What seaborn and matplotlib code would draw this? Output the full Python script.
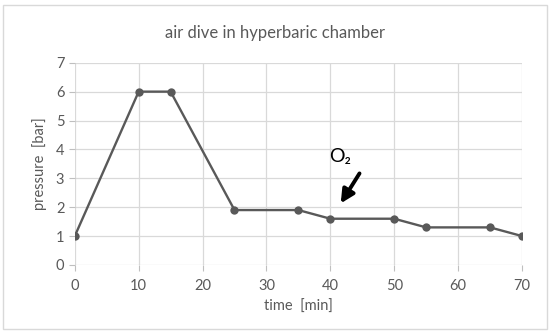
import matplotlib
matplotlib.use("Agg")
import matplotlib.pyplot as plt
import seaborn as sns
import pandas as pd

# dive profile
time_min = [0, 10, 15, 25, 35, 40, 50, 55, 65, 70]
pressure_bar = [1, 6, 6, 1.9, 1.9, 1.6, 1.6, 1.3, 1.3, 1]
x_ticks = [0, 10, 20, 30, 40, 50, 60, 70]
y_ticks = [0, 1, 2, 3, 4, 5, 6, 7]

df = pd.DataFrame({"time": time_min, "pressure": pressure_bar})

sns.set_style("white")
plt.rcParams["font.family"] = ["Lato", "DejaVu Sans"]

gray = "#595959"
fig = plt.figure(figsize=(5.5, 3.32), dpi=100)
ax = fig.add_axes([0.136, 0.202, 0.813, 0.609])

sns.lineplot(data=df, x="time", y="pressure", ax=ax, color=gray, linewidth=1.7,
             marker="o", markersize=6, markeredgewidth=0, zorder=3)

ax.set_xlim(0, 70)
ax.set_ylim(0, 7)
ax.set_xticks(x_ticks)
ax.set_yticks(y_ticks)
ax.grid(True, color="#d9d9d9", linewidth=0.9)
for s in ax.spines.values():
    s.set_visible(False)
ax.tick_params(axis="both", colors="#bfbfbf", labelcolor=gray, labelsize=10.5,
               length=4, width=0.8, left=True, bottom=True)
ax.tick_params(axis="x", pad=6)
ax.set_xlabel("time  [min]", color=gray, fontsize=10.5, labelpad=5)
ax.set_ylabel("pressure  [bar]", color=gray, fontsize=10.5, labelpad=6)
fig.suptitle("air dive in hyperbaric chamber", color=gray, fontsize=12, y=0.925)

# O2 annotation with arrow
ax.annotate("", xy=(41.4, 2.05), xytext=(44.8, 3.25),
            arrowprops=dict(arrowstyle="-|>", color="black", lw=2.8, mutation_scale=20))
ax.text(41.6, 3.75, "O₂", fontsize=14, ha="center", va="center", color="black")

# light outer frame
fig.patches.append(plt.Rectangle((0.006, 0.01), 0.988, 0.975, transform=fig.transFigure,
                                 fill=False, edgecolor="#d9d9d9", linewidth=1))

fig.savefig("out.png", dpi=100)
